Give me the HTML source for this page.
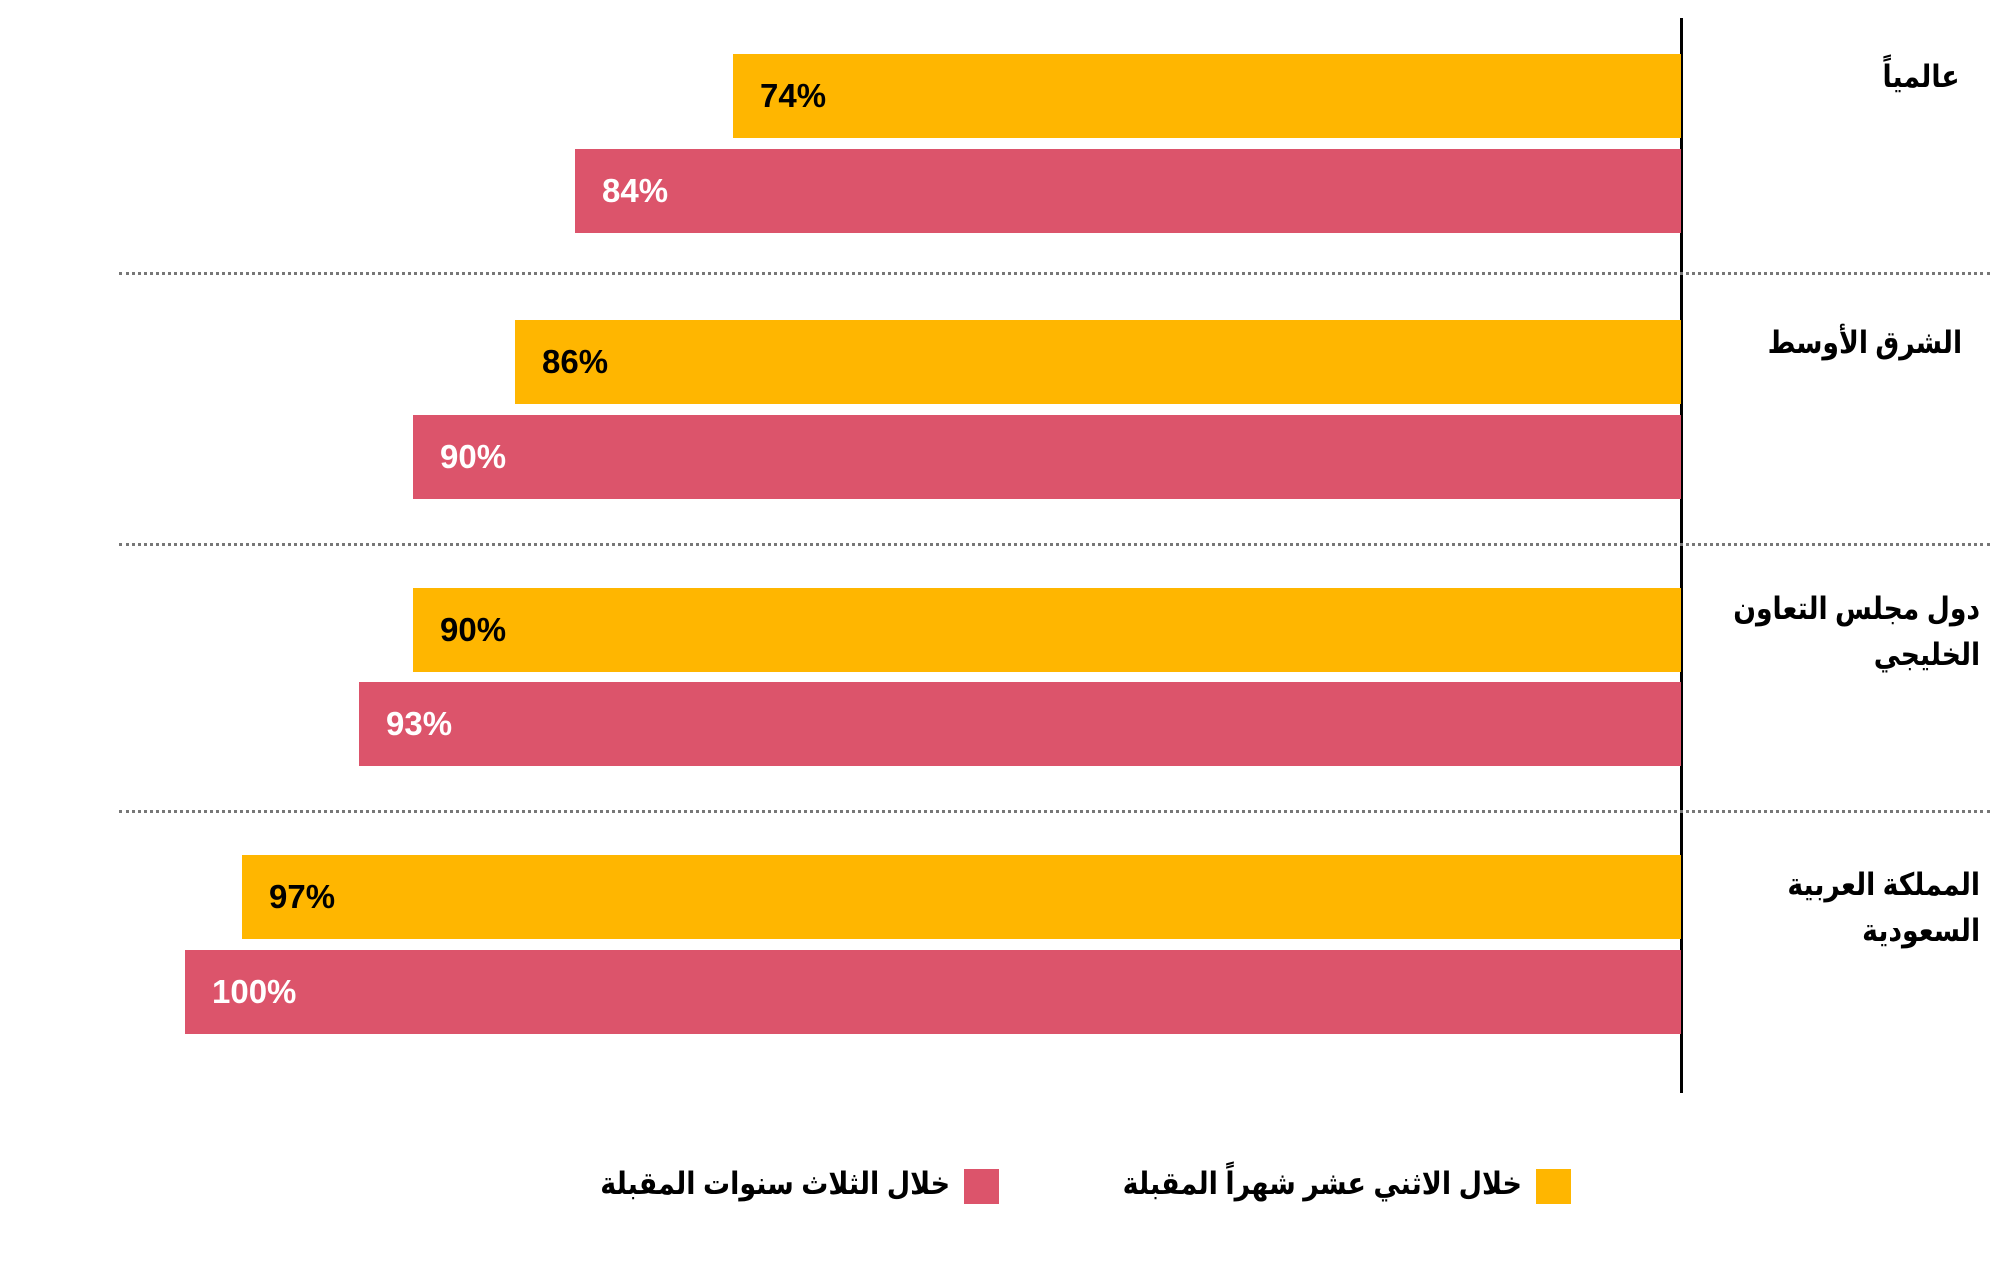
<!DOCTYPE html>
<html><head><meta charset="utf-8"><style>
html,body{margin:0;padding:0;background:#fff;}
body{width:2000px;height:1263px;position:relative;overflow:hidden;font-family:"Liberation Sans","DejaVu Sans",sans-serif;}
.bar{position:absolute;height:84px;right:319px;}
.y{background:#FFB600;}
.r{background:#DC546B;}
.pct{position:absolute;font-weight:bold;font-size:33px;line-height:84px;left:27px;top:0;}
.y .pct{color:#000}.r .pct{color:#fff}
.dot{position:absolute;left:119px;width:1871px;height:0;border-top:3px dotted #777;}
.cat{position:absolute;font-weight:bold;font-size:31px;text-align:right;direction:rtl;line-height:46px;color:#000;transform:scaleX(0.86);transform-origin:right center;}
.leg{position:absolute;font-weight:bold;font-size:31px;direction:rtl;white-space:nowrap;transform:scaleX(0.87);transform-origin:right center;}
.sq{position:absolute;width:35px;height:35px;}
</style></head><body>
<div style="position:absolute;left:1680px;top:18px;width:3px;height:1075px;background:#000"></div>

<div class="bar y" style="left:733px;top:54px"><span class="pct">74%</span></div>
<div class="bar r" style="left:575px;top:149px"><span class="pct">84%</span></div>
<div class="dot" style="top:272px"></div>
<div class="bar y" style="left:515px;top:320px"><span class="pct">86%</span></div>
<div class="bar r" style="left:413px;top:415px"><span class="pct">90%</span></div>
<div class="dot" style="top:543px"></div>
<div class="bar y" style="left:413px;top:588px"><span class="pct">90%</span></div>
<div class="bar r" style="left:359px;top:682px"><span class="pct">93%</span></div>
<div class="dot" style="top:810px"></div>
<div class="bar y" style="left:242px;top:855px"><span class="pct">97%</span></div>
<div class="bar r" style="left:185px;top:950px"><span class="pct">100%</span></div>

<div class="cat" style="right:40px;top:54px">عالمياً</div>
<div class="cat" style="right:38px;top:320px">الشرق الأوسط</div>
<div class="cat" style="right:20px;top:586px">دول مجلس التعاون<br>الخليجي</div>
<div class="cat" style="right:20px;top:862px">المملكة العربية<br>السعودية</div>

<div class="sq" style="left:1536px;top:1169px;background:#FFB600"></div>
<div class="leg" style="right:478px;top:1166px">خلال الاثني عشر شهراً المقبلة</div>
<div class="sq" style="left:964px;top:1169px;background:#DC546B"></div>
<div class="leg" style="right:1050px;top:1166px">خلال الثلاث سنوات المقبلة</div>
</body></html>
